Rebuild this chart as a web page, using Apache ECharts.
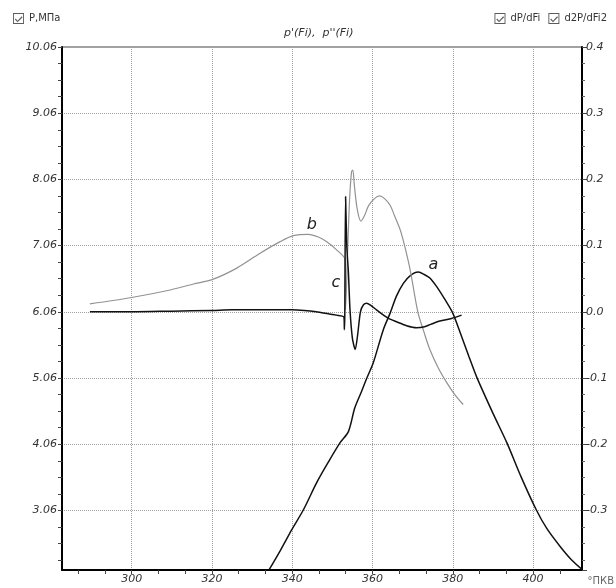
<!DOCTYPE html>
<html>
<head>
<meta charset="utf-8">
<script src="https://cdn.jsdelivr.net/npm/echarts@6/dist/echarts.min.js"></script>
<style>
html,body{margin:0;padding:0;background:#fff;}
#c{width:616px;height:588px;}
</style>
</head>
<body>
<div id="c"></div>
<script>
// ---- data ----
// crank angle (°ПКВ) / pressure P, МПа  (curve a, left axis)
var pressureA = [
  [334.3,2.17],[337,2.45],[339.9,2.77],[342.8,3.07],[346.1,3.48],[349,3.79],[351.9,4.08],
  [354.0,4.25],[355.6,4.61],[357.3,4.86],[358.6,5.06],[360.2,5.29],[362.7,5.79],[364.4,6.04],
  [366,6.3],[367.7,6.49],[369.5,6.61],[371.4,6.66],[373,6.62],[374.3,6.57],[376,6.44],
  [378,6.25],[380,6.04],[382,5.72],[384,5.39],[386,5.07],[390,4.53],[393.5,4.08],[397,3.57],
  [400.8,3.07],[403.5,2.78],[406.7,2.52],[409.5,2.32],[412.2,2.17]
];
// dP/dFi (curve b, right axis)
var dP = [
  [289.6,0.012],[300,0.0216],[309.6,0.033],[315.4,0.042],[320.2,0.049],[326.2,0.066],[332,0.0885],
  [337,0.106],[340.3,0.115],[344,0.117],[346.5,0.113],[348.6,0.106],[351,0.094],[353.2,0.078],
  [353.3,0.003],[353.8,0.09],[354.3,0.17],[354.8,0.212],[355.1,0.214],[355.5,0.19],[356.2,0.155],
  [357.1,0.137],[358,0.145],[359,0.16],[360.5,0.171],[361.8,0.175],[363,0.171],[364.4,0.161],
  [365.5,0.145],[366.9,0.124],[368,0.1],[369.4,0.063],[371.3,0.0],[372.8,-0.03],[374.3,-0.057],
  [376.4,-0.085],[378.5,-0.107],[380.5,-0.125],[382.6,-0.14]
];
// d2P/dFi2 (curve c, right axis)
var d2P = [
  [289.6,0],[300,0],[310,0.001],[320,0.002],[325,0.003],[335,0.003],[340,0.003],[343,0.002],
  [346,0],[349,-0.003],[351,-0.005],[352.9,-0.008],[353.0,-0.027],[353.1,-0.006],[353.3,0.174],
  [353.6,0.1],[354.0,0.06],[354.4,0.003],[355.0,-0.04],[355.7,-0.057],[356.3,-0.035],[357.0,0.0],
  [357.8,0.011],[358.6,0.013],[359.5,0.01],[361,0.003],[362.5,-0.004],[364,-0.01],[366,-0.015],
  [368.5,-0.021],[371,-0.024],[372.7,-0.023],[374.5,-0.019],[376.8,-0.014],[379.7,-0.01],[382.2,-0.005]
];
var xTickLabels = [300,320,340,360,380,400];
var leftTickLabels = [3.06,4.06,5.06,6.06,7.06,8.06,9.06,10.06];
var curveNames = ['P,МПа','dP/dFi','d2P/dFi2'];
var curveLetters = [
  {name:'a', x:375.2, y:6.77},
  {name:'b', x:344.9, y:0.131},
  {name:'c', x:350.9, y:0.043}
];

// ---- helpers ----
var xMin = 282.65, xMax = 412.2;
var xTicks = [];
for (var k = -2; k <= 17; k++) { var v = 300 + k*20/3; if (v > xMin && v < xMax) xTicks.push(+v.toFixed(3)); }
var leftTicks = [];
for (var m = 2.31; m <= 10.07; m += 0.25) leftTicks.push(+m.toFixed(2));

var lblFont = 'DejaVu Sans';
var checkIcon = 'path://M0,0L12,0L12,12L0,12Z M1,1L1,11L11,11L11,1Z M3,6L5,8.5L9.5,3.5L10.5,4.5L5,10L2,7Z';
var gridLine = {show: true, lineStyle: {color: '#a0a0a0', type: [1,1], width: 1}};
var axisText = {fontSize: 11, fontStyle: 'italic', fontFamily: lblFont, color: '#333'};

function letterMark(l) {
  return {
    symbol: 'circle', symbolSize: 1, itemStyle: {color: 'rgba(0,0,0,0)'},
    label: {show: true, position: 'inside', fontSize: 16, fontStyle: 'italic', fontFamily: lblFont, color: '#222'},
    data: [{coord: [l.x, l.y], value: l.name, label: {formatter: l.name}}]
  };
}

var chart = echarts.init(document.getElementById('c'), null, {renderer: 'canvas'});
chart.setOption({
  animation: false,
  backgroundColor: '#fff',
  title: {
    text: "p'(Fi),  p''(Fi)", left: 284, top: 28, padding: 0,
    textStyle: {fontSize: 11, fontStyle: 'italic', fontWeight: 'normal', fontFamily: lblFont, color: '#333'}
  },
  legend: [
    {data: [curveNames[0]], left: 8, top: 8, icon: checkIcon, itemWidth: 11, itemHeight: 11, itemGap: 8,
     itemStyle: {color: '#5c5c5c', borderWidth: 0},
     textStyle: {fontSize: 10, color: '#333', fontFamily: lblFont}, selectedMode: false},
    {data: [curveNames[1], curveNames[2]], right: 4, top: 8, icon: checkIcon, itemWidth: 11, itemHeight: 11, itemGap: 8,
     itemStyle: {color: '#5c5c5c', borderWidth: 0},
     textStyle: {fontSize: 10, color: '#333', fontFamily: lblFont}, selectedMode: false}
  ],
  grid: {left: 62, right: 34, top: 47, bottom: 18, show: true, borderColor: '#444', borderWidth: 1},
  xAxis: [
    {
      type: 'value', position: 'bottom', min: xMin, max: xMax, minInterval: 20, maxInterval: 20, splitNumber: 6,
      axisLine: {onZero: false, lineStyle: {color: '#000', width: 2}},
      axisTick: {show: false},
      axisLabel: Object.assign({customValues: xTickLabels, margin: 4}, axisText),
      splitLine: gridLine
    },
    {
      type: 'value', position: 'bottom', min: xMin, max: xMax,
      axisLine: {show: false, onZero: false},
      axisTick: {show: true, customValues: xTicks, length: 4, lineStyle: {color: '#444'}},
      axisLabel: {show: false},
      splitLine: {show: false}
    }
  ],
  yAxis: [
    {
      type: 'value', position: 'left', min: 2.16, max: 10.06,
      axisLine: {show: true, onZero: false, lineStyle: {color: '#000', width: 2}},
      axisTick: {show: true, customValues: leftTicks, length: 4, lineStyle: {color: '#444'}},
      axisLabel: Object.assign({customValues: leftTickLabels, margin: 5,
                  formatter: function (v) { return v.toFixed(2); }}, axisText),
      splitLine: {show: false}
    },
    {
      type: 'value', position: 'right', min: -0.39, max: 0.4, minInterval: 0.1, maxInterval: 0.1, splitNumber: 8,
      axisLine: {show: true, onZero: false, lineStyle: {color: '#000', width: 2}},
      axisTick: {show: true, length: 5, lineStyle: {color: '#444'}},
      minorTick: {show: true, splitNumber: 4, length: 3, lineStyle: {color: '#666'}},
      axisLabel: Object.assign({showMinLabel: false, margin: 4,
                  formatter: function (v) { return v.toFixed(1); }}, axisText),
      splitLine: gridLine
    }
  ],
  graphic: [
    {type: 'text', right: 2, bottom: 2, style: {text: '°ПКВ', fontSize: 10, fontFamily: lblFont, fill: '#666'}}
  ],
  series: [
    {name: curveNames[0], type: 'line', xAxisIndex: 0, yAxisIndex: 0, data: pressureA, showSymbol: false,
     smooth: 0.3,
     lineStyle: {color: '#111', width: 1.5}, itemStyle: {color: '#111'}, markPoint: letterMark(curveLetters[0])},
    {name: curveNames[1], type: 'line', xAxisIndex: 0, yAxisIndex: 1, data: dP, showSymbol: false,
     smooth: 0.3,
     lineStyle: {color: '#929292', width: 1.2}, itemStyle: {color: '#929292'}, markPoint: letterMark(curveLetters[1])},
    {name: curveNames[2], type: 'line', xAxisIndex: 0, yAxisIndex: 1, data: d2P, showSymbol: false,
     smooth: 0.25,
     lineStyle: {color: '#111', width: 1.5}, itemStyle: {color: '#111'}, markPoint: letterMark(curveLetters[2])}
  ]
});
</script>
</body>
</html>
